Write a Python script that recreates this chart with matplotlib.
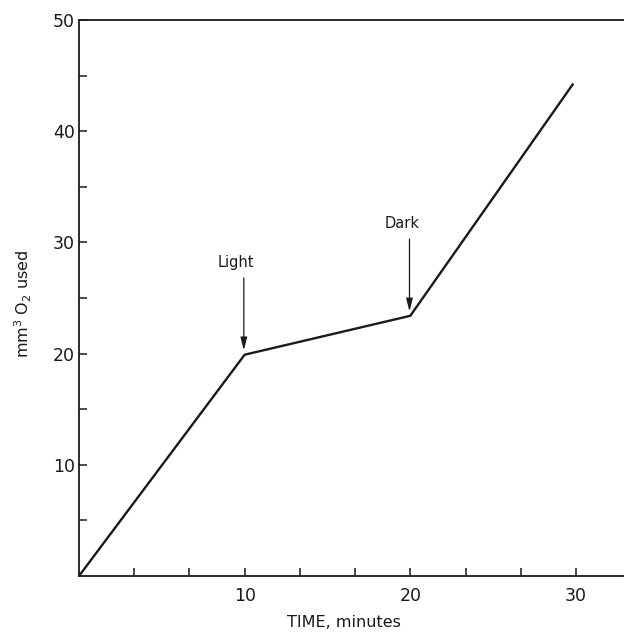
import matplotlib.pyplot as plt
import numpy as np

# O2 uptake vs time, light switched on at 10 min and off at 20 min
time_min = [0, 10, 20, 29.8]
o2_used = [0, 19.9, 23.4, 44.2]

x_major = [10, 20, 30]
y_major = [10, 20, 30, 40, 50]

events = ["Light", "Dark"]
event_x = [10, 20]
event_y = [19.9, 23.4]

ink = "#1a1a1a"

fig = plt.figure(figsize=(6.24, 6.33), dpi=100)
ax = fig.add_axes([79 / 624, 1 - 576 / 633, 1 - 79 / 624, (576 - 20) / 633])

ax.plot(time_min, o2_used, color=ink, lw=1.7, solid_joinstyle="miter")

for name, ex, ey in zip(events, event_x, event_y):
    ax.annotate("", xy=(ex - 0.05, ey + 0.4), xytext=(ex - 0.05, ey + 6.9),
                arrowprops=dict(arrowstyle="-|>,head_width=0.18,head_length=0.7",
                                color=ink, lw=0.9, mutation_scale=11,
                                shrinkA=0, shrinkB=0))
    ax.text(ex - 0.5, ey + 7.6, name, ha="center", va="bottom",
            fontsize=10.5, color=ink)

ax.set_xlim(0, 32.9)
ax.set_ylim(0, 50)

ax.set_xticks(x_major)
ax.set_xticks([v for v in np.arange(0, 33, 10 / 3) if v > 0.1 and abs(v % 10) > 0.1 and abs(v % 10 - 10) > 0.1], minor=True)
ax.set_yticks(y_major)
ax.set_yticks([5, 15, 25, 35, 45], minor=True)

ax.tick_params(axis="both", which="both", direction="in", length=6, width=1.1, colors=ink)
ax.tick_params(axis="x", which="major", pad=8, labelsize=12.5)
ax.tick_params(axis="y", which="major", pad=3, labelsize=12.5)

for side in ["left", "bottom", "top"]:
    ax.spines[side].set_linewidth(1.3)
    ax.spines[side].set_color(ink)
ax.spines["right"].set_visible(False)

ax.set_xlabel("TIME, minutes", fontsize=11.5, color=ink)
ax.xaxis.set_label_coords(0.487, -0.07)
ax.set_ylabel("mm$^3$ O$_2$ used", fontsize=11.5, color=ink)
ax.yaxis.set_label_coords(-0.083, 0.49)

fig.savefig("out.png", dpi=100)
